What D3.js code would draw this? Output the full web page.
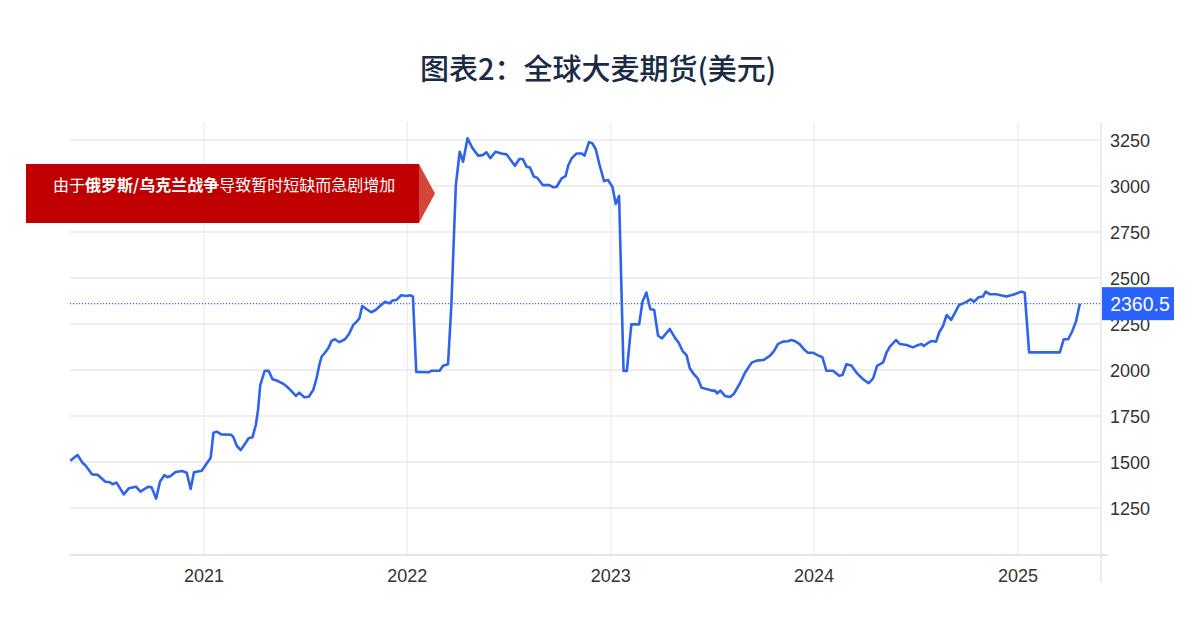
<!DOCTYPE html>
<html>
<head>
<meta charset="utf-8">
<script src="https://cdn.jsdelivr.net/npm/d3@7"></script>
<style>
  body { margin: 0; background: #fff; }
  svg { display: block; font-family: "Liberation Sans", Arial, sans-serif; }
</style>
</head>
<body>
<svg id="chart"></svg>
<script>
// datumi i cijene očitane sa slike
const dates = [
  "2020-05-06","2020-05-19","2020-05-28","2020-06-02","2020-06-14","2020-06-24","2020-06-28","2020-07-08","2020-07-16","2020-07-21","2020-07-28","2020-08-10","2020-08-19","2020-09-01","2020-09-09","2020-09-23","2020-09-29","2020-10-07","2020-10-14","2020-10-22","2020-10-27","2020-11-02","2020-11-11","2020-11-23","2020-12-01","2020-12-08","2020-12-14","2020-12-28",
  "2021-01-04","2021-01-13","2021-01-18","2021-01-24","2021-02-01","2021-02-19","2021-02-23","2021-03-01","2021-03-08","2021-03-15","2021-03-22","2021-03-29","2021-04-04","2021-04-08","2021-04-12","2021-04-20","2021-04-27","2021-05-04","2021-05-14","2021-05-25","2021-06-04","2021-06-15","2021-06-21","2021-06-30","2021-07-08","2021-07-16","2021-07-22","2021-07-27","2021-07-31","2021-08-06","2021-08-12","2021-08-18","2021-08-24","2021-09-01","2021-09-11","2021-09-18","2021-09-26","2021-10-02","2021-10-07","2021-10-12","2021-10-20","2021-10-28","2021-11-05","2021-11-15","2021-11-22","2021-11-30","2021-12-05","2021-12-12","2021-12-21","2021-12-30",
  "2022-01-07","2022-01-11","2022-01-17","2022-02-09","2022-02-13","2022-02-28","2022-03-06","2022-03-15","2022-03-21","2022-03-29","2022-04-05","2022-04-11","2022-04-19","2022-04-28","2022-05-08","2022-05-16","2022-05-23","2022-05-30","2022-06-08","2022-06-19","2022-06-28","2022-07-13","2022-07-21","2022-07-27","2022-08-03","2022-08-09","2022-08-16","2022-08-22","2022-09-01","2022-09-13","2022-09-20","2022-09-26","2022-10-05","2022-10-12","2022-10-17","2022-10-23","2022-11-01","2022-11-10","2022-11-15","2022-11-23","2022-11-29","2022-12-05","2022-12-12","2022-12-20","2022-12-27",
  "2023-01-04","2023-01-10","2023-01-16","2023-01-24","2023-01-30","2023-02-07","2023-02-21","2023-02-27","2023-03-06","2023-03-13","2023-03-20","2023-03-27","2023-04-03","2023-04-17","2023-04-26","2023-05-03","2023-05-10","2023-05-17","2023-05-23","2023-05-29","2023-06-06","2023-06-13","2023-06-22","2023-07-01","2023-07-07","2023-07-11","2023-07-17","2023-07-25","2023-08-03","2023-08-10","2023-08-21","2023-08-30","2023-09-11","2023-09-20","2023-10-02","2023-10-14","2023-10-21","2023-10-28","2023-11-06","2023-11-15","2023-11-21","2023-11-27","2023-12-06","2023-12-14","2023-12-21","2023-12-30",
  "2024-01-07","2024-01-16","2024-01-23","2024-02-04","2024-02-15","2024-02-21","2024-02-28","2024-03-08","2024-03-16","2024-03-23","2024-03-29","2024-04-08","2024-04-16","2024-04-23","2024-05-04","2024-05-10","2024-05-16","2024-05-27","2024-06-03","2024-06-15","2024-06-26","2024-07-06","2024-07-12","2024-07-16","2024-07-24","2024-07-30","2024-08-07","2024-08-13","2024-08-19","2024-08-26","2024-09-03","2024-09-10","2024-09-17","2024-09-28","2024-10-08","2024-10-14","2024-10-22","2024-10-30","2024-11-04","2024-11-11","2024-11-23","2024-12-11","2024-12-26",
  "2025-01-07","2025-01-13","2025-01-21","2025-03-17","2025-03-24","2025-04-01","2025-04-08","2025-04-15","2025-04-22"
];
const prices = [
  1507,1538,1496,1482,1433,1431,1420,1393,1390,1379,1388,1324,1357,1366,1339,1366,1362,1301,1393,1429,1417,1424,1446,1451,1442,1353,1444,1453,
  1484,1523,1659,1665,1650,1648,1634,1587,1565,1596,1629,1634,1701,1783,1918,1996,1995,1950,1940,1922,1895,1859,1877,1852,1855,1891,1955,2027,2072,2094,2118,2158,2167,2151,2167,2194,2245,2263,2281,2348,2330,2314,2326,2353,2371,2362,2377,2380,2406,2402,
  2406,2399,1990,1988,1996,1996,2023,2031,2353,3005,3186,3132,3259,3205,3165,3168,3183,3151,3186,3177,3172,3110,3147,3147,3105,3100,3051,3045,3005,3005,2993,2996,3042,3054,3114,3151,3177,3177,3165,3238,3232,3201,3114,3027,3033,
  2996,2902,2946,1995,1995,2249,2248,2371,2421,2331,2326,2186,2172,2223,2176,2148,2103,2081,2009,1982,1955,1904,1897,1888,1888,1873,1888,1859,1853,1870,1928,1985,2040,2051,2054,2078,2103,2141,2154,2156,2163,2158,2141,2112,2094,2094,
  2081,2069,1996,1996,1969,1973,2031,2024,1990,1967,1950,1928,1955,2023,2042,2094,2127,2163,2141,2136,2123,2136,2141,2130,2148,2158,2154,2208,2236,2299,2272,2312,2353,2366,2384,2371,2395,2399,2426,2412,2412,2399,2412,
  2426,2420,2096,2096,2167,2167,2208,2263,2360.5
];
const yearTicks = [2021, 2022, 2023, 2024, 2025];
const priceTicks = [1250, 1500, 1750, 2000, 2250, 2500, 2750, 3000, 3250];
const lastPrice = 2360.5;
const title = "图表2：全球大麦期货(美元)";
const noteParts = [
  { text: "由于", bold: false },
  { text: "俄罗斯/乌克兰战争", bold: true },
  { text: "导致暂时短缺而急剧增加", bold: false }
];

const W = 1200, H = 638;
const plot = { left: 70, right: 1101, top: 122, bottom: 555 };
const parse = d3.timeParse("%Y-%m-%d");
const series = dates.map((d, i) => ({ date: parse(d), value: prices[i] }));

const svg = d3.select('#chart').attr('width', W).attr('height', H);

const x = d3.scaleTime()
  .domain([new Date(2021, 0, 1), new Date(2025, 0, 1)])
  .range([204, 1018]);
const y = d3.scaleLinear()
  .domain([1250, 3250])
  .range([508, 140]);

// naslov
svg.append('text')
  .attr('x', 598).attr('y', 80)
  .attr('text-anchor', 'middle')
  .attr('font-family', '"Noto Sans CJK SC", sans-serif')
  .attr('font-size', 29).attr('font-weight', 500)
  .attr('fill', '#1b2b45')
  .text(title);

// mreža
svg.append('g').selectAll('line.vgrid')
  .data(yearTicks)
  .enter().append('line')
  .attr('x1', d => x(new Date(d, 0, 1))).attr('x2', d => x(new Date(d, 0, 1)))
  .attr('y1', plot.top).attr('y2', plot.bottom)
  .attr('stroke', '#f0f0f0').attr('stroke-width', 1.5);

svg.append('g').selectAll('line.hgrid')
  .data(priceTicks)
  .enter().append('line')
  .attr('x1', plot.left).attr('x2', plot.right)
  .attr('y1', d => y(d)).attr('y2', d => y(d))
  .attr('stroke', '#e8e8e8').attr('stroke-width', 1.5);

// osi
svg.append('line')
  .attr('x1', plot.left).attr('x2', 1108)
  .attr('y1', plot.bottom).attr('y2', plot.bottom)
  .attr('stroke', '#dcdcdc').attr('stroke-width', 1.5);
svg.append('line')
  .attr('x1', plot.right).attr('x2', plot.right)
  .attr('y1', plot.top).attr('y2', 583)
  .attr('stroke', '#e6e6e6').attr('stroke-width', 1.5);

svg.append('g').selectAll('text.year')
  .data(yearTicks)
  .enter().append('text')
  .attr('x', d => x(new Date(d, 0, 1)))
  .attr('y', 582)
  .attr('text-anchor', 'middle')
  .attr('font-size', 18).attr('fill', '#333')
  .text(d => d);

svg.append('g').selectAll('text.price')
  .data(priceTicks)
  .enter().append('text')
  .attr('x', 1110)
  .attr('y', d => y(d) + 6.5)
  .attr('font-size', 18).attr('fill', '#333')
  .text(d => d);

// linija cijene
const line = d3.line()
  .x(d => x(d.date))
  .y(d => y(d.value));

svg.append('path')
  .datum(series)
  .attr('d', line)
  .attr('fill', 'none')
  .attr('stroke', '#2f64ea')
  .attr('stroke-width', 2.6)
  .attr('stroke-linejoin', 'round');

// zadnja cijena
svg.append('line')
  .attr('x1', plot.left).attr('x2', plot.right)
  .attr('y1', y(lastPrice)).attr('y2', y(lastPrice))
  .attr('stroke', '#3d6ef2').attr('stroke-width', 1.2)
  .attr('stroke-dasharray', '1.2,1.8');
svg.append('rect')
  .attr('x', 1102).attr('y', y(lastPrice) - 16.5)
  .attr('width', 72).attr('height', 33)
  .attr('fill', '#2962ff');
svg.append('text')
  .attr('x', 1140).attr('y', y(lastPrice) + 7)
  .attr('text-anchor', 'middle')
  .attr('font-size', 19.5).attr('fill', '#fff')
  .text(lastPrice);

// crvena oznaka
svg.append('rect')
  .attr('x', 26).attr('y', 164)
  .attr('width', 393).attr('height', 59)
  .attr('fill', '#c00000');
svg.append('polygon')
  .attr('points', '419,164 435,193.5 419,223')
  .attr('fill', '#d5463a');

const note = svg.append('text')
  .attr('x', 53).attr('y', 191)
  .attr('font-family', '"Noto Sans CJK SC", sans-serif')
  .attr('font-size', 16).attr('fill', '#fff');
note.selectAll('tspan')
  .data(noteParts)
  .enter().append('tspan')
  .attr('font-weight', d => d.bold ? 700 : 400)
  .text(d => d.text);
</script>
</body>
</html>
